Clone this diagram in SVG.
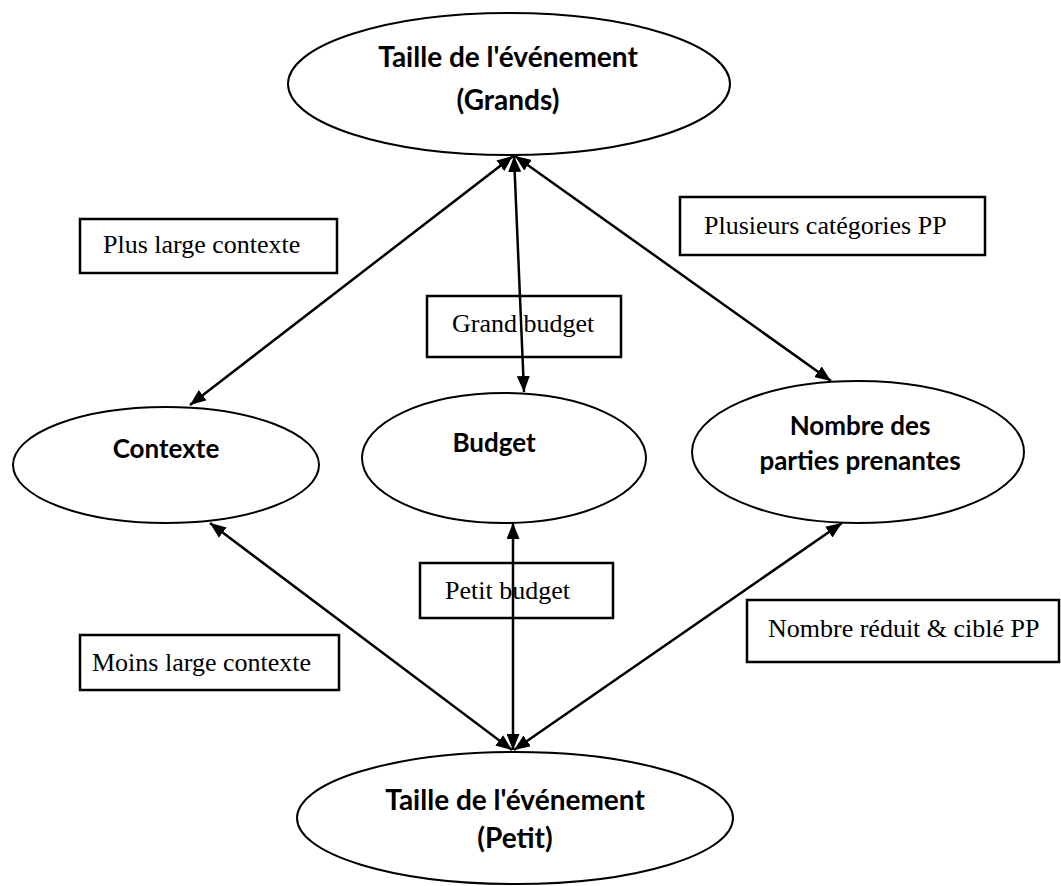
<svg xmlns="http://www.w3.org/2000/svg" width="1061" height="886" viewBox="0 0 1061 886">
<defs>
<marker id="ah" viewBox="0 0 16 13" refX="16" refY="6.5" markerWidth="16" markerHeight="13" markerUnits="userSpaceOnUse" orient="auto-start-reverse">
<path d="M0,0 L16,6.5 L0,13 Z" fill="#000"/>
</marker>
</defs>
<style>
.node ellipse{fill:#fff;stroke:#000;stroke-width:2}
.lbl rect{fill:#fff;stroke:#000;stroke-width:2.5}
.bt{font-family:Lato,"Liberation Sans",sans-serif;font-weight:bold;font-size:26px;text-anchor:middle;fill:#000}
.big{font-size:28px}
.st{font-family:"Liberation Serif","Times New Roman",serif;font-size:26px;fill:#000}
.conn line{stroke:#000;stroke-width:2.5;marker-start:url(#ah);marker-end:url(#ah)}
</style>
<rect width="1061" height="886" fill="#fff"/>
<g id="top" class="node">
<ellipse cx="509" cy="84" rx="221" ry="71"/>
<text class="bt big" x="508" y="67">Taille de l'événement</text>
<text class="bt big" x="508" y="110">(Grands)</text>
</g>
<g id="contexte" class="node">
<ellipse cx="166" cy="465" rx="153" ry="58"/>
<text class="bt" x="166" y="458">Contexte</text>
</g>
<g id="budget" class="node">
<ellipse cx="504" cy="458" rx="142" ry="65"/>
<text class="bt" x="494" y="452">Budget</text>
</g>
<g id="nombre" class="node">
<ellipse cx="858" cy="452" rx="166" ry="71"/>
<text class="bt" x="860" y="435">Nombre des</text>
<text class="bt" x="860" y="470">parties prenantes</text>
</g>
<g id="bottom" class="node">
<ellipse cx="515" cy="818" rx="218" ry="66"/>
<text class="bt big" x="515" y="810">Taille de l'événement</text>
<text class="bt big" x="515" y="848">(Petit)</text>
</g>
<g id="connectors" class="conn">
<line x1="513" y1="156" x2="190" y2="405"/>
<line x1="514" y1="156" x2="524" y2="392"/>
<line x1="515" y1="156" x2="831" y2="381"/>
<line x1="512" y1="750" x2="210" y2="523"/>
<line x1="513" y1="750" x2="513" y2="523"/>
<line x1="514" y1="750" x2="842" y2="523"/>
</g>
<g id="lbl-plus" class="lbl">
<rect x="80" y="219" width="257" height="54"/>
<text class="st" x="103" y="253">Plus large contexte</text>
</g>
<g id="lbl-plusieurs" class="lbl">
<rect x="680" y="197" width="305" height="58"/>
<text class="st" x="704" y="234">Plusieurs catégories PP</text>
</g>
<g id="lbl-grand" class="lbl">
<rect x="427" y="296" width="194" height="61" style="fill:none"/>
<text class="st" x="452" y="332">Grand budget</text>
</g>
<g id="lbl-petit" class="lbl">
<rect x="420" y="563" width="193" height="55" style="fill:none"/>
<text class="st" x="445" y="599">Petit budget</text>
</g>
<g id="lbl-moins" class="lbl">
<rect x="80" y="635" width="259" height="55"/>
<text class="st" x="92" y="671">Moins large contexte</text>
</g>
<g id="lbl-nombre" class="lbl">
<rect x="747" y="600" width="312" height="62"/>
<text class="st" x="768" y="637">Nombre réduit &amp; ciblé PP</text>
</g>
</svg>
